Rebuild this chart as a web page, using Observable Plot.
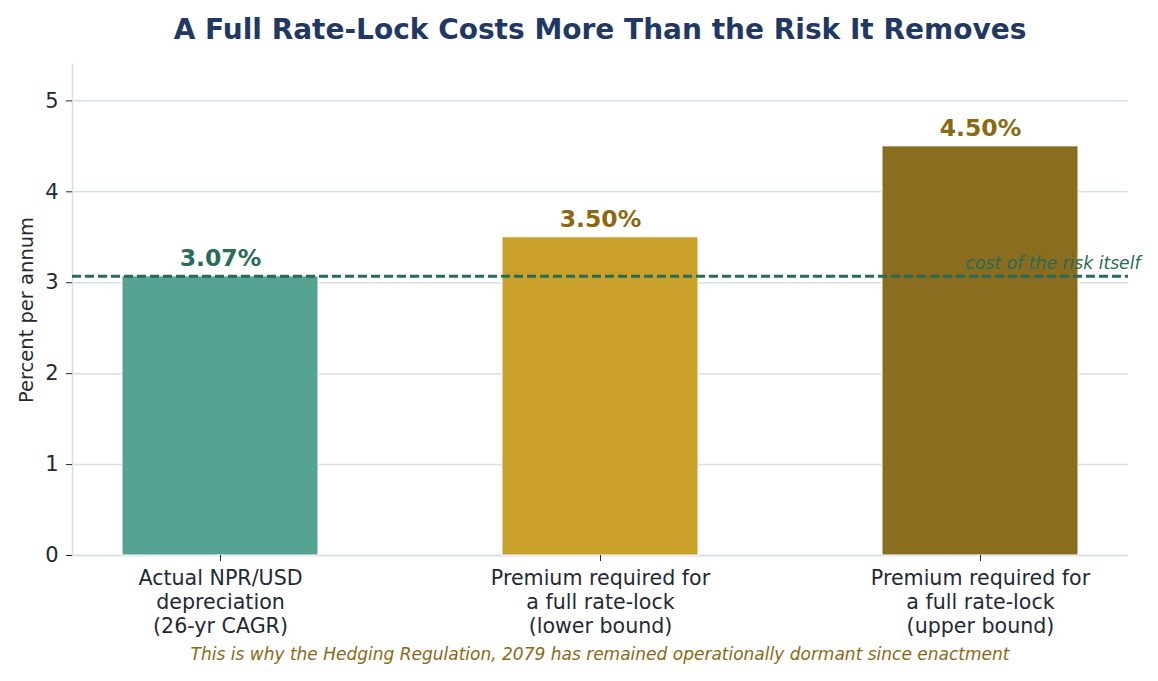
<!DOCTYPE html>
<html>
<head>
<meta charset="utf-8">
<script src="https://cdn.jsdelivr.net/npm/d3@7"></script>
<script src="https://cdn.jsdelivr.net/npm/@observablehq/plot@0.6"></script>
<style>
  html, body { margin: 0; padding: 0; background: #ffffff; }
  #wrap { position: relative; width: 1158px; height: 681px; font-family: "DejaVu Sans", sans-serif; }
  #title { position: absolute; left: 72px; width: 1056px; top: 16px; text-align: center;
           font-size: 28px; line-height: 28px; font-weight: bold; color: #1f3864; white-space: nowrap; }
  #caption { position: absolute; left: 72px; width: 1056px; top: 646px; text-align: center;
           font-size: 17px; line-height: 17px; font-style: italic; color: #8b6914; white-space: nowrap; }
  #chart { position: absolute; left: 0; top: 0; }
</style>
</head>
<body>
<div id="wrap">
  <div id="chart"></div>
  <div id="title">A Full Rate-Lock Costs More Than the Risk It Removes</div>
  <div id="caption">This is why the Hedging Regulation, 2079 has remained operationally dormant since enactment</div>
</div>
<script>
const categories = [
  "Actual NPR/USD\ndepreciation\n(26-yr CAGR)",
  "Premium required for\na full rate-lock\n(lower bound)",
  "Premium required for\na full rate-lock\n(upper bound)"
];
const values = [3.07, 3.50, 4.50];
const valueLabels = ["3.07%", "3.50%", "4.50%"];
const barColors = ["#57a392", "#c9a12a", "#8b6d20"];
const labelColors = ["#276b58", "#8b6914", "#8b6914"];
const yTicks = [0, 1, 2, 3, 4, 5];
const riskCost = 3.07;
const riskLabel = "cost of the risk itself";
const yLabel = "Percent per annum";

const data = categories.map((c, i) => ({
  cat: c, value: values[i], label: valueLabels[i], fill: barColors[i], textColor: labelColors[i]
}));

const gridColor = "#d5dfea";
const inkColor = "#1f2a36";
const riskColor = "#276b58";

const chart = Plot.plot({
  width: 1158,
  height: 681,
  marginLeft: 72,
  marginRight: 30,
  marginTop: 64,
  marginBottom: 126,
  style: { fontFamily: "DejaVu Sans, sans-serif", fontSize: "20px", color: inkColor, background: "transparent" },
  x: { domain: categories, paddingInner: 0.485, paddingOuter: 0.131, label: null },
  y: { domain: [0, 5.4], label: null },
  color: { type: "identity" },
  marks: [
    Plot.gridY(yTicks, { stroke: gridColor, strokeOpacity: 1, strokeWidth: 1.5 }),
    Plot.frame({ anchor: "left", stroke: gridColor, strokeOpacity: 1, strokeWidth: 1.5 }),
    Plot.ruleY([0], { stroke: gridColor, strokeWidth: 1.5 }),
    Plot.barY(data, { x: "cat", y: "value", fill: "fill", stroke: "#ffffff", strokeWidth: 1 }),
    Plot.ruleY([riskCost], { stroke: riskColor, strokeWidth: 3, strokeDasharray: "9,4" }),
    Plot.text([riskLabel], { y: () => riskCost, frameAnchor: "right", textAnchor: "end", dx: 12, dy: -13,
      fontStyle: "italic", fontSize: 17.2, fill: riskColor }),
    Plot.text(data, { x: "cat", y: "value", text: "label", fill: "textColor", dy: -10, lineAnchor: "bottom",
      fontWeight: "bold", fontSize: 23.5 }),
    Plot.axisY({ ticks: yTicks, tickFormat: d => String(d), tickSize: 6, tickPadding: 8, fontSize: 21,
      stroke: inkColor, fill: inkColor, label: null }),
    Plot.axisX({ tickSize: 6, tickPadding: 6, fontSize: 20.6, lineHeight: 1.17, stroke: inkColor, fill: inkColor, label: null }),
    Plot.text([yLabel], { frameAnchor: "left", textAnchor: "middle", rotate: -90, dx: -46, fontSize: 19.5, fill: inkColor })
  ]
});
document.getElementById("chart").appendChild(chart);
</script>
</body>
</html>
